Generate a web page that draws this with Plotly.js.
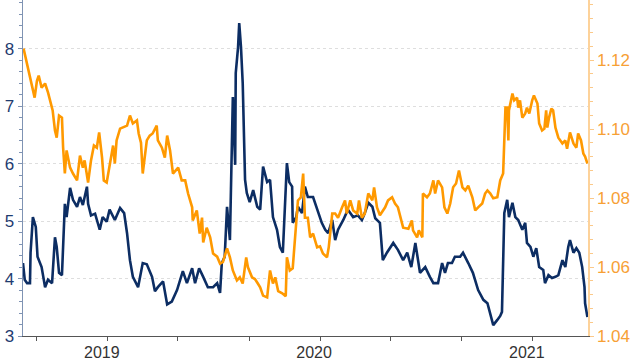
<!DOCTYPE html>
<html>
<head>
<meta charset="utf-8">
<script src="https://cdn.plot.ly/plotly-3.0.1.min.js"></script>
<style>html,body{margin:0;padding:0;background:#fff;}#chart{width:640px;height:360px;}</style>
</head>
<body>
<div id="chart"></div>
<script>
// Navy series (left axis)
const navyDates = ["2018-08-08","2018-08-11","2018-08-15","2018-08-20","2018-08-21","2018-08-25","2018-08-30","2018-09-02","2018-09-09","2018-09-15","2018-09-20","2018-09-27","2018-10-02","2018-10-05","2018-10-09","2018-10-14","2018-10-19","2018-10-22","2018-10-28","2018-11-02","2018-11-09","2018-11-14","2018-11-19","2018-11-26","2018-11-28","2018-12-03","2018-12-10","2018-12-18","2018-12-23","2018-12-30","2019-01-04","2019-01-13","2019-01-22","2019-01-29","2019-02-03","2019-02-08","2019-02-13","2019-02-22","2019-03-02","2019-03-09","2019-03-18","2019-03-23","2019-03-28","2019-04-06","2019-04-13","2019-04-21","2019-04-30","2019-05-05","2019-05-10","2019-05-17","2019-05-26","2019-05-31","2019-06-07","2019-06-14","2019-06-22","2019-07-01","2019-07-08","2019-07-13","2019-07-16","2019-07-21","2019-07-25","2019-07-30","2019-08-02","2019-08-04","2019-08-08","2019-08-09","2019-08-13","2019-08-15","2019-08-18","2019-08-20","2019-08-21","2019-08-25","2019-08-28","2019-09-02","2019-09-08","2019-09-15","2019-09-20","2019-09-25","2019-10-02","2019-10-07","2019-10-12","2019-10-19","2019-10-24","2019-10-29","2019-11-02","2019-11-05","2019-11-09","2019-11-14","2019-11-15","2019-11-21","2019-11-24","2019-12-01","2019-12-06","2019-12-11","2019-12-20","2019-12-27","2020-01-04","2020-01-10","2020-01-15","2020-01-22","2020-01-27","2020-02-01","2020-02-10","2020-02-18","2020-02-27","2020-03-06","2020-03-13","2020-03-18","2020-03-24","2020-03-31","2020-04-05","2020-04-10","2020-04-13","2020-04-18","2020-04-25","2020-05-06","2020-05-14","2020-05-23","2020-05-30","2020-06-06","2020-06-13","2020-06-21","2020-06-30","2020-07-08","2020-07-14","2020-07-22","2020-07-29","2020-08-03","2020-08-08","2020-08-15","2020-08-20","2020-08-29","2020-09-03","2020-09-12","2020-09-20","2020-09-29","2020-10-08","2020-10-15","2020-10-20","2020-10-25","2020-11-01","2020-11-06","2020-11-09","2020-11-11","2020-11-13","2020-11-18","2020-11-21","2020-11-27","2020-12-02","2020-12-07","2020-12-14","2020-12-19","2020-12-22","2020-12-28","2021-01-02","2021-01-07","2021-01-12","2021-01-19","2021-01-22","2021-01-28","2021-02-03","2021-02-09","2021-02-14","2021-02-21","2021-02-26","2021-03-03","2021-03-06","2021-03-12","2021-03-17","2021-03-22","2021-03-27","2021-03-31","2021-04-01","2021-04-05"];
const navyValues = [4.27,3.98,3.92,3.92,4.45,5.07,4.90,4.38,4.20,3.85,3.98,3.92,4.72,4.55,4.10,4.06,5.30,5.07,5.58,5.37,5.25,5.42,5.28,5.60,5.30,5.10,5.13,4.85,5.07,4.99,5.20,5.02,5.23,5.14,4.79,4.32,4.03,3.85,4.27,4.25,4.03,3.78,3.85,3.95,3.55,3.60,3.80,3.98,4.13,3.92,4.18,3.92,4.18,4.03,3.85,3.85,3.92,3.75,4.27,4.38,5.25,4.67,5.95,7.16,5.98,7.58,8.03,8.45,8.03,7.69,7.40,5.72,5.49,5.33,5.54,5.25,5.20,5.95,5.68,5.72,5.07,4.85,4.55,4.45,5.37,6.01,5.68,5.60,4.97,5.07,5.25,5.14,5.60,5.42,5.42,5.20,4.97,4.85,4.79,5.02,4.67,4.85,5.02,5.20,5.07,5.10,5.02,5.14,5.32,5.25,5.05,5.00,4.97,4.32,4.45,4.62,4.50,4.32,4.45,4.20,4.62,4.10,4.20,4.03,3.92,3.92,4.27,4.10,4.27,4.27,4.38,4.38,4.45,4.27,4.10,3.80,3.63,3.57,3.40,3.19,3.28,3.35,3.42,4.40,5.14,5.37,5.07,5.32,5.07,5.02,4.85,4.97,4.62,4.55,4.38,4.53,4.20,4.15,3.92,4.06,4.01,4.03,4.06,4.32,4.20,4.55,4.67,4.45,4.53,4.45,4.20,3.85,3.57,3.33];

// Orange series (right axis)
const orangeDates = ["2018-08-09","2018-08-13","2018-08-16","2018-08-21","2018-08-25","2018-08-28","2018-09-01","2018-09-04","2018-09-09","2018-09-15","2018-09-20","2018-09-25","2018-09-28","2018-10-02","2018-10-05","2018-10-09","2018-10-14","2018-10-16","2018-10-19","2018-10-22","2018-10-28","2018-11-02","2018-11-09","2018-11-14","2018-11-19","2018-11-22","2018-11-28","2018-12-03","2018-12-08","2018-12-13","2018-12-17","2018-12-22","2018-12-25","2018-12-30","2019-01-04","2019-01-10","2019-01-13","2019-01-16","2019-01-22","2019-01-27","2019-02-03","2019-02-08","2019-02-13","2019-02-20","2019-02-23","2019-02-27","2019-03-02","2019-03-09","2019-03-14","2019-03-19","2019-03-26","2019-03-28","2019-04-04","2019-04-09","2019-04-13","2019-04-18","2019-04-23","2019-05-02","2019-05-08","2019-05-14","2019-05-19","2019-05-26","2019-05-27","2019-06-03","2019-06-08","2019-06-12","2019-06-14","2019-06-20","2019-06-26","2019-07-01","2019-07-08","2019-07-13","2019-07-18","2019-07-25","2019-07-30","2019-08-04","2019-08-11","2019-08-16","2019-08-21","2019-08-27","2019-08-30","2019-09-06","2019-09-11","2019-09-16","2019-09-20","2019-09-25","2019-10-02","2019-10-07","2019-10-12","2019-10-16","2019-10-21","2019-10-28","2019-11-03","2019-11-05","2019-11-10","2019-11-15","2019-11-21","2019-11-24","2019-11-29","2019-12-03","2019-12-06","2019-12-11","2019-12-15","2019-12-20","2019-12-27","2020-01-01","2020-01-06","2020-01-13","2020-01-16","2020-01-22","2020-01-27","2020-02-01","2020-02-08","2020-02-13","2020-02-16","2020-02-22","2020-02-27","2020-03-05","2020-03-08","2020-03-13","2020-03-18","2020-03-24","2020-03-31","2020-04-03","2020-04-08","2020-04-13","2020-04-22","2020-04-27","2020-05-04","2020-05-09","2020-05-14","2020-05-19","2020-05-23","2020-06-01","2020-06-07","2020-06-09","2020-06-16","2020-06-19","2020-06-25","2020-06-26","2020-07-03","2020-07-08","2020-07-14","2020-07-17","2020-07-22","2020-07-29","2020-08-02","2020-08-07","2020-08-12","2020-08-17","2020-08-22","2020-08-27","2020-09-02","2020-09-07","2020-09-12","2020-09-19","2020-09-24","2020-09-29","2020-10-06","2020-10-11","2020-10-15","2020-10-20","2020-10-25","2020-11-01","2020-11-06","2020-11-11","2020-11-13","2020-11-15","2020-11-18","2020-11-20","2020-11-21","2020-11-27","2020-11-30","2020-12-05","2020-12-07","2020-12-10","2020-12-14","2020-12-19","2020-12-22","2020-12-26","2020-12-31","2021-01-03","2021-01-09","2021-01-12","2021-01-17","2021-01-21","2021-01-24","2021-01-26","2021-01-29","2021-02-02","2021-02-05","2021-02-09","2021-02-14","2021-02-21","2021-02-26","2021-03-01","2021-03-06","2021-03-12","2021-03-17","2021-03-20","2021-03-25","2021-03-29","2021-04-01","2021-04-05"];
const orangeValues = [1.1233,1.1204,1.1184,1.1149,1.1112,1.1091,1.1140,1.1155,1.1120,1.1132,1.1106,1.1074,1.1054,1.0996,1.0975,1.1039,1.1033,1.0946,1.0871,1.0938,1.0888,1.0871,1.0851,1.0923,1.0888,1.0909,1.0845,1.0909,1.0952,1.0946,1.0990,1.0917,1.0851,1.0845,1.0900,1.0952,1.0900,1.0967,1.1001,1.1004,1.1010,1.1039,1.1016,1.1025,1.0987,1.0960,1.0871,1.0967,1.0981,1.0987,1.1010,1.0967,1.0946,1.0917,1.0981,1.0938,1.0871,1.0888,1.0851,1.0851,1.0813,1.0773,1.0735,1.0764,1.0697,1.0743,1.0671,1.0714,1.0686,1.0639,1.0630,1.0610,1.0615,1.0654,1.0628,1.0590,1.0561,1.0570,1.0552,1.0628,1.0599,1.0570,1.0565,1.0552,1.0541,1.0517,1.0512,1.0590,1.0552,1.0570,1.0530,1.0524,1.0515,1.0628,1.0590,1.0596,1.0714,1.0793,1.0802,1.0871,1.0743,1.0743,1.0686,1.0697,1.0657,1.0660,1.0639,1.0628,1.0657,1.0755,1.0755,1.0743,1.0773,1.0793,1.0755,1.0793,1.0764,1.0755,1.0793,1.0743,1.0755,1.0813,1.0793,1.0831,1.0773,1.0750,1.0773,1.0793,1.0802,1.0784,1.0773,1.0735,1.0714,1.0711,1.0735,1.0706,1.0686,1.0706,1.0686,1.0813,1.0802,1.0813,1.0851,1.0813,1.0851,1.0831,1.0773,1.0755,1.0784,1.0831,1.0842,1.0880,1.0831,1.0822,1.0836,1.0802,1.0764,1.0773,1.0784,1.0813,1.0822,1.0813,1.0799,1.0802,1.0851,1.0871,1.0967,1.1062,1.1062,1.0967,1.1054,1.1103,1.1083,1.1091,1.1062,1.1083,1.1033,1.1045,1.1062,1.1045,1.1083,1.1097,1.1074,1.1016,1.0996,1.1001,1.1054,1.1004,1.1033,1.1059,1.1054,1.1004,1.0975,1.0958,1.0967,1.0943,1.0990,1.0958,1.0946,1.0987,1.0967,1.0929,1.0920,1.0900];

// Axis ticks
const xTickVals = ["2018-09-01","2019-01-01","2019-05-01","2019-09-01","2020-01-01","2020-05-01","2020-09-01","2021-01-01"];
const xTickText = ["","2019","","","2020","","","2021"];
const leftTicks = [3,4,5,6,7,8];
const rightTicks = [1.04,1.06,1.08,1.10,1.12];

const FONT = "Liberation Sans, Arial, sans-serif";
const NAVY = "#0c2d63";
const ORANGE = "#ff9900";

const traces = [
  {x: navyDates, y: navyValues, type: "scatter", mode: "lines", yaxis: "y",
   line: {color: NAVY, width: 2.6}, hoverinfo: "skip", showlegend: false},
  {x: orangeDates, y: orangeValues, type: "scatter", mode: "lines", yaxis: "y2",
   line: {color: ORANGE, width: 2.6}, hoverinfo: "skip", showlegend: false}
];

const layout = {
  width: 640, height: 360,
  margin: {l: 23, r: 52, t: 0, b: 24, pad: 0},
  paper_bgcolor: "#ffffff", plot_bgcolor: "#ffffff",
  font: {family: FONT, size: 17},
  showlegend: false,
  xaxis: {
    type: "date", range: ["2018-08-08", "2021-04-06"],
    tickmode: "array", tickvals: xTickVals, ticktext: xTickText,
    ticks: "outside", ticklen: 4, tickcolor: "#555", tickwidth: 1,
    showline: true, linecolor: "#555", linewidth: 1,
    showgrid: false, zeroline: false,
    tickfont: {family: FONT, size: 16, color: "#333"},
    ticklabelshift: -6, ticklabelstandoff: -2
  },
  yaxis: {
    range: [3, 8.85],
    tickmode: "array", tickvals: leftTicks,
    ticks: "outside", ticklen: 4, tickcolor: "#7f93b3", tickwidth: 1,
    showline: true, linecolor: "#7f93b3", linewidth: 1.5,
    showgrid: true, gridcolor: "#dedede", griddash: "dot", gridwidth: 1,
    zeroline: false,
    minor: {dtick: 0.2, tick0: 3, ticks: "outside", ticklen: 3, tickcolor: "#7f93b3", showgrid: false},
    tickfont: {family: FONT, size: 17, color: "#1f3c70"}
  },
  yaxis2: {
    overlaying: "y", side: "right", anchor: "x",
    range: [1.04, 1.1374],
    tickmode: "array", tickvals: rightTicks, tickformat: ".2f",
    ticks: "outside", ticklen: 4, tickcolor: "#fbc98a", tickwidth: 1,
    showline: true, linecolor: "#fdd29a", linewidth: 1.5,
    showgrid: false, zeroline: false,
    minor: {dtick: 0.004, tick0: 1.04, ticks: "outside", ticklen: 3, tickcolor: "#fbc98a", showgrid: false},
    tickfont: {family: FONT, size: 17, color: "#f7a035"}
  }
};

Plotly.newPlot("chart", traces, layout, {staticPlot: true, displayModeBar: false});
</script>
</body>
</html>
